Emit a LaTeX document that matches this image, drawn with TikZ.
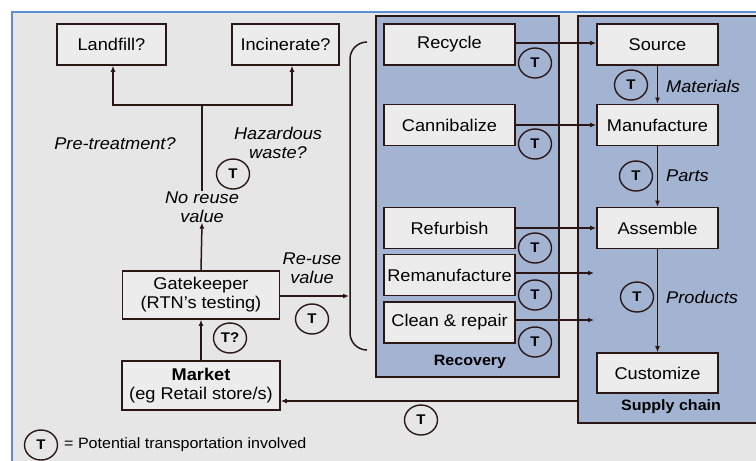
\documentclass[tikz,border=0pt]{standalone}
\usepackage{fontspec}
\setmainfont{Liberation Sans}[FakeStretch=1.07]
\usetikzlibrary{shapes.geometric,arrows.meta}

\definecolor{framebg}{HTML}{E6E6E6}
\definecolor{frameline}{HTML}{5A8FD8}
\definecolor{panelfill}{HTML}{A3B4D2}
\definecolor{boxfill}{HTML}{ECECEC}
\definecolor{ink}{HTML}{2B1616}

\tikzset{
  stagebox/.style={draw=ink, line width=1.6pt, fill=boxfill, inner sep=0pt,
    font=\fontsize{17}{19}\selectfont, text=black, align=center},
  tcirc/.style={ellipse, draw=ink, line width=1.4pt, fill=framebg,
    minimum width=33pt, minimum height=30pt, inner sep=0pt,
    font=\bfseries\fontsize{14}{14}\selectfont},
  tcircb/.style={tcirc, fill=panelfill},
  flow/.style={draw=ink, line width=1.5pt, -{Latex[length=6pt,width=5pt]}},
  link/.style={draw=ink, line width=1.5pt},
  lbl/.style={font=\itshape\fontsize{17}{19}\selectfont, align=center, inner sep=0pt},
  panel/.style={draw=ink, line width=1.6pt, fill=panelfill},
  paneltitle/.style={font=\bfseries\fontsize{15}{15}\selectfont, inner sep=0pt}
}

\begin{document}
\begin{tikzpicture}[x=1pt,y=-1pt]
  \useasboundingbox (0,0) rectangle (756,461);
  % page and framed area
  \fill[white] (0,0) rectangle (756,461);
  \fill[framebg] (12,12) rectangle (770,470);
  \draw[frameline, line width=1.3pt] (12,470) -- (12,12) -- (770,12);

  % panels
  \draw[panel] (376,16) rectangle (559,377);
  \draw[panel] (578,16) rectangle (770,423);
  \node[paneltitle] (rectitle) at (470,362) {Recovery};
  \node[paneltitle] (sctitle) at (671,407) {Supply chain};

  % disposal branch
  \node[stagebox, minimum width=109pt, minimum height=41pt] (landfill) at (111.5,44.5) {Landfill?};
  \node[stagebox, minimum width=107pt, minimum height=41pt] (incin) at (285.5,44.5) {Incinerate?};
  \node[stagebox, minimum width=157pt, minimum height=48pt] (gate) at (201,295) {Gatekeeper\\(RTN’s testing)};
  \node[stagebox, minimum width=158pt, minimum height=49pt] (market) at (201,385.5) {\textbf{Market}\\(eg Retail store/s)};

  \node[lbl] (noreuse) at (202,207) {No reuse\\value};
  \node[lbl] (pretreat) at (115,144) {Pre-treatment?};
  \node[lbl] (hazard) at (278,143) {Hazardous\\waste?};
  \node[lbl] (reuse) at (312,268) {Re-use\\value};

  \coordinate (branch) at (202,105);
  \draw[flow] (gate.north) -- (noreuse.south);
  \draw[link] (noreuse.north) -- (branch);
  \draw[flow] (branch) -| ([xshift=1.5pt]landfill.south);
  \draw[flow] (branch) -| ([xshift=6.5pt]incin.south);
  \draw[flow] (market.north) -- (gate.south);

  % bracket gathering the recovery options
  \draw[link] (367,42) [rounded corners=17pt] -- (350,42) -- (350,350) [rounded corners=0pt] -- (367,350);
  \coordinate (brk) at (349,296);
  \draw[flow] (gate.east |- brk) -- (brk);

  % recovery options
  \foreach \name/\txt/\yy in {rcy/Recycle/44.5, can/Cannibalize/125, ref/Refurbish/228,
      rem/Remanufacture/275, cln/Clean \& repair/322.5}
    \node[stagebox, minimum width=131pt, minimum height=41pt] (\name) at (449.5,\yy) {\txt};

  % supply chain stages
  \node[stagebox, minimum width=121pt, minimum height=41pt] (src) at (657.5,44.5) {Source};
  \node[stagebox, minimum width=121pt, minimum height=41pt] (man) at (657.5,125) {Manufacture};
  \node[stagebox, minimum width=121pt, minimum height=41pt] (asm) at (657.5,228) {Assemble};
  \node[stagebox, minimum width=121pt, minimum height=40pt] (cus) at (657.5,373) {Customize};

  \draw[flow] (rcy.east |- 0,43) -- (src.west |- 0,43);
  \draw[flow] (can) -- (man);
  \draw[flow] (ref) -- (asm);
  \coordinate (remin) at (594,273);
  \coordinate (clnin) at (594,320);
  \draw[flow] (rem.east |- remin) -- (remin);
  \draw[flow] (cln.east |- clnin) -- (clnin);

  \draw[flow] (src) -- (man);
  \draw[flow] (man) -- (asm);
  \draw[flow] (asm) -- (cus);

  \node[lbl, anchor=west] (mat) at (666,86) {Materials};
  \node[lbl, anchor=west] (parts) at (666,176) {Parts};
  \node[lbl, anchor=west] (prod) at (666,297) {Products};

  % return flow to the market
  \coordinate (scout) at (578,401);
  \draw[flow] (scout) -- (scout -| market.east);

  % transportation markers
  \node[tcirc] (t1) at (233,174) {T};
  \node[tcirc] (t2) at (230,338) {T?};
  \node[tcirc] (t3) at (312,319) {T};
  \node[tcirc] (t4) at (421,420) {T};
  \foreach \yy [count=\i] in {63,144,248,295,342}
    \node[tcircb] (tr\i) at (535,\yy) {T};
  \node[tcircb] (ts1) at (631,85) {T};
  \node[tcircb] (ts2) at (636,176) {T};
  \node[tcircb] (ts3) at (637,297) {T};

  % legend
  \node[tcirc] (tleg) at (41,445) {T};
  \node[anchor=west, inner sep=0pt, font=\fontsize{15}{15}\selectfont] (legtext) at (64,445) {= Potential transportation involved};
\end{tikzpicture}
\end{document}
